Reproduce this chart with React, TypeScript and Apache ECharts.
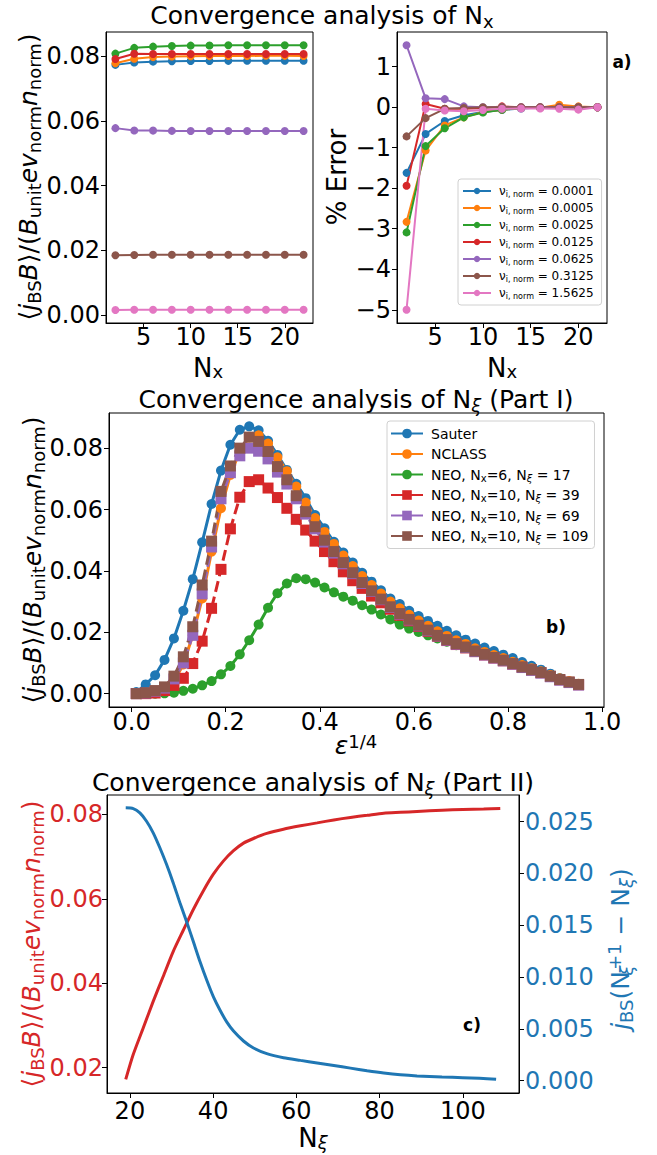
import React, { useEffect, useRef } from 'react';
import * as echarts from 'echarts';

const F = "'DejaVu Sans', sans-serif";
const COL = ['#1f77b4', '#ff7f0e', '#2ca02c', '#d62728', '#9467bd', '#8c564b', '#e377c2'];

// ---------- Panel a ----------
const nxValues = [2, 4, 6, 8, 10, 12, 14, 16, 18, 20, 22];
const nuLabels = ['0.0001', '0.0005', '0.0025', '0.0125', '0.0625', '0.3125', '1.5625'];

const jbsNu0001 = [0.07733, 0.07808, 0.07833, 0.07844, 0.07851, 0.07854, 0.07858, 0.07859, 0.0786, 0.0786, 0.0786];
const jbsNu0005 = [0.07783, 0.07924, 0.07974, 0.0799, 0.08, 0.08005, 0.08008, 0.08009, 0.08015, 0.08012, 0.0801];
const jbsNu0025 = [0.08082, 0.0826, 0.08297, 0.08319, 0.08329, 0.08335, 0.08338, 0.08339, 0.0834, 0.0834, 0.0834];
const jbsNu0125 = [0.07913, 0.08076, 0.08067, 0.08067, 0.08068, 0.08072, 0.0807, 0.0807, 0.0807, 0.0807, 0.0807];
const jbsNu0625 = [0.05777, 0.05703, 0.05701, 0.05691, 0.0569, 0.0569, 0.0569, 0.0569, 0.0569, 0.0569, 0.0569];
const jbsNu3125 = [0.01847, 0.01855, 0.01859, 0.0186, 0.0186, 0.0186, 0.0186, 0.0186, 0.0186, 0.0186, 0.0186];
const jbsNu15625 = [0.00152, 0.0016, 0.0016, 0.0016, 0.0016, 0.0016, 0.0016, 0.0016, 0.0016, 0.0016, 0.0016];

const errNu0001 = [-1.62, -0.66, -0.34, -0.2, -0.12, -0.07, -0.03, -0.01, 0, 0, 0];
const errNu0005 = [-2.83, -1.07, -0.45, -0.25, -0.12, -0.06, -0.02, -0.01, 0.06, 0.02, 0];
const errNu0025 = [-3.09, -0.96, -0.52, -0.25, -0.13, -0.06, -0.02, -0.01, 0, 0, 0];
const errNu0125 = [-1.94, 0.08, -0.04, -0.04, -0.02, 0.02, 0, 0, 0, 0, 0];
const errNu0625 = [1.53, 0.22, 0.2, 0.02, 0, 0, 0, 0, 0, 0, 0];
const errNu3125 = [-0.72, -0.27, -0.04, -0.02, 0, 0, 0, 0, 0, 0, 0];
const errNu15625 = [-5.0, -0.04, -0.08, -0.1, -0.07, -0.04, -0.03, -0.03, -0.04, -0.06, 0];

const jbsA = [jbsNu0001, jbsNu0005, jbsNu0025, jbsNu0125, jbsNu0625, jbsNu3125, jbsNu15625];
const errA = [errNu0001, errNu0005, errNu0025, errNu0125, errNu0625, errNu3125, errNu15625];

// ---------- Panel b ----------
const epsQuarter = [0.01, 0.03, 0.05, 0.07, 0.09, 0.11, 0.13, 0.15, 0.17, 0.19, 0.21, 0.23, 0.25, 0.27, 0.29, 0.31,
  0.33, 0.35, 0.37, 0.39, 0.41, 0.43, 0.45, 0.47, 0.49, 0.51, 0.53, 0.55, 0.57, 0.59, 0.61, 0.63, 0.65, 0.67, 0.69,
  0.71, 0.73, 0.75, 0.77, 0.79, 0.81, 0.83, 0.85, 0.87, 0.89, 0.91, 0.93, 0.95];
const sauter = [0.0005, 0.003, 0.006, 0.011, 0.018, 0.027, 0.0373, 0.0493, 0.0618, 0.0727, 0.0811, 0.086, 0.0871, 0.0858,
  0.0824, 0.0778, 0.0729, 0.0684, 0.0637, 0.0582, 0.0539, 0.0495, 0.046, 0.0427, 0.0394, 0.0365, 0.0337, 0.031, 0.0292,
  0.027, 0.0253, 0.0237, 0.0221, 0.0205, 0.019, 0.0176, 0.0163, 0.015, 0.0139, 0.0127, 0.0116, 0.0103, 0.0091, 0.0078,
  0.0065, 0.0051, 0.0038, 0.003];
const nclass = [0.0, 0.0002, 0.0006, 0.0015, 0.004, 0.0095, 0.019, 0.031, 0.0463, 0.0604, 0.0713, 0.079, 0.0835, 0.0842,
  0.0815, 0.077, 0.0725, 0.0675, 0.0623, 0.0572, 0.0527, 0.0488, 0.045, 0.0416, 0.0383, 0.0354, 0.0326, 0.03, 0.0278,
  0.0257, 0.0238, 0.0221, 0.0203, 0.0188, 0.0174, 0.0162, 0.0148, 0.0136, 0.0126, 0.0116, 0.0104, 0.0093, 0.0083,
  0.0073, 0.0061, 0.005, 0.0041, 0.0032];
const neoNx6Nxi17 = [0.0, 0.0, 0.0, 0.0001, 0.0003, 0.0009, 0.0016, 0.0027, 0.0041, 0.0063, 0.009, 0.0128, 0.0174, 0.0225,
  0.028, 0.0327, 0.0359, 0.0376, 0.0373, 0.0362, 0.0346, 0.033, 0.0316, 0.0303, 0.0288, 0.0274, 0.0258, 0.0242, 0.0225,
  0.0212, 0.0201, 0.019, 0.018, 0.0169, 0.0158, 0.0149, 0.0139, 0.0128, 0.0118, 0.0108, 0.0097, 0.0087, 0.0077, 0.0068,
  0.0056, 0.0045, 0.0037, 0.0029];
const neoNx10Nxi39 = [0.0, 0.0, 0.0002, 0.001, 0.0027, 0.005, 0.0098, 0.0171, 0.0278, 0.0405, 0.0537, 0.064, 0.0691, 0.0697,
  0.067, 0.0639, 0.0604, 0.0568, 0.0533, 0.0497, 0.0463, 0.043, 0.0397, 0.0368, 0.0343, 0.0318, 0.0296, 0.0275, 0.0255,
  0.0237, 0.0219, 0.0203, 0.0187, 0.0173, 0.016, 0.0149, 0.0137, 0.0126, 0.0116, 0.0107, 0.0096, 0.0086, 0.0077, 0.0068,
  0.0056, 0.0045, 0.0037, 0.0029];
const neoNx10Nxi69 = [0.0, 0.0002, 0.0008, 0.0018, 0.0048, 0.01, 0.019, 0.0325, 0.0478, 0.0635, 0.072, 0.0775, 0.08, 0.079,
  0.0765, 0.0722, 0.0683, 0.0635, 0.0585, 0.0537, 0.0494, 0.0458, 0.0423, 0.0391, 0.0359, 0.0333, 0.0306, 0.0281, 0.0259,
  0.024, 0.0221, 0.0205, 0.0188, 0.0174, 0.0161, 0.015, 0.0137, 0.0126, 0.0116, 0.0107, 0.0096, 0.0085, 0.0076, 0.0067,
  0.0055, 0.0044, 0.0036, 0.0028];
const neoNx10Nxi109 = [0.0, 0.0003, 0.001, 0.0022, 0.0057, 0.012, 0.0218, 0.0354, 0.0497, 0.0659, 0.0742, 0.08, 0.0836,
  0.0822, 0.0789, 0.074, 0.0697, 0.0645, 0.0593, 0.0544, 0.05, 0.0463, 0.0427, 0.0394, 0.0362, 0.0335, 0.0308, 0.0283,
  0.0261, 0.0242, 0.0223, 0.0207, 0.019, 0.0176, 0.0163, 0.0152, 0.0139, 0.0128, 0.0118, 0.0109, 0.0098, 0.0087, 0.0078,
  0.0069, 0.0057, 0.0046, 0.0038, 0.003];

// ---------- Panel c ----------
const nXiRed = [19, 20.8, 23.2, 25.6, 28, 30.4, 32.8, 35.3, 37.7, 40.1, 42.5, 44.9, 47.3, 49.7, 52.9, 56.9, 61, 65, 69,
  73, 77, 81, 85, 89, 95, 100, 105, 109];
const jbsRed = [0.0172, 0.0231, 0.0294, 0.0357, 0.0416, 0.0475, 0.0525, 0.0576, 0.062, 0.0659, 0.069, 0.0714, 0.0732,
  0.0743, 0.0755, 0.0765, 0.0773, 0.078, 0.0787, 0.0793, 0.0798, 0.0803, 0.0805, 0.0807, 0.081, 0.0812, 0.0813, 0.0814];
const nXiBlue = [19, 20.8, 22.4, 24, 25.6, 27.2, 28.8, 30.4, 32, 33.7, 35.3, 36.9, 38.5, 40.1, 41.7, 43.3, 44.9, 47.3,
  49.7, 52.9, 56.9, 61, 65, 69, 73, 77, 81, 85, 89, 95, 100, 104, 108];
const diffBlue = [0.02632, 0.02625, 0.02583, 0.02503, 0.02391, 0.02247, 0.02087, 0.0191, 0.01718, 0.01526, 0.01334,
  0.01141, 0.00965, 0.00805, 0.00676, 0.00564, 0.00478, 0.00382, 0.00314, 0.0026, 0.00221, 0.00195, 0.0017, 0.00145,
  0.0012, 0.00095, 0.00073, 0.00056, 0.00045, 0.00035, 0.00028, 0.00022, 0.00012];

function rich(fs: number, color: string, lhScale = 1.2) {
  const sub = Math.round(fs * 0.7);
  const lh = Math.round(fs * lhScale);
  const slh = Math.round(sub * 0.9);
  const base = { fontFamily: F, color, fill: color };
  return {
    t: { ...base, fontSize: fs, lineHeight: lh, verticalAlign: 'middle' },
    i: { ...base, fontSize: fs, lineHeight: lh, verticalAlign: 'middle', fontStyle: 'italic' },
    s: { ...base, fontSize: sub, lineHeight: slh, verticalAlign: 'bottom' },
    si: { ...base, fontSize: sub, lineHeight: slh, verticalAlign: 'bottom', fontStyle: 'italic' },
    sw: { ...base, fontSize: sub, lineHeight: 10, verticalAlign: 'bottom', fontStyle: 'italic', width: 1, align: 'left' },
    p: { ...base, fontSize: sub, lineHeight: slh, verticalAlign: 'top' },
    pp: { ...base, fontSize: sub, lineHeight: 8, verticalAlign: 'top' },
    n: { ...base, fontSize: fs, lineHeight: lh, verticalAlign: 'middle', padding: [0, 0, 0, 3] },
  };
}

function gText(text: string, x: number, y: number, fs: number, color = '#000', rotation = 0, lhScale = 1.2) {
  return {
    type: 'text', x, y, rotation, silent: true,
    style: {
      text, rich: rich(fs, color, lhScale), fill: color, fontSize: fs, fontFamily: F,
      align: 'center', verticalAlign: 'middle', textAlign: 'center', textVerticalAlign: 'middle',
    },
  };
}

function boldLabel(text: string, x: number, y: number) {
  return {
    type: 'text', x, y, silent: true,
    style: {
      text, fontSize: 17, fontWeight: 'bold', fontFamily: F, fill: '#000',
      align: 'center', verticalAlign: 'middle', textAlign: 'center', textVerticalAlign: 'middle',
    },
  };
}

const minusFmt = (v: number, d: number) => (v < 0 ? '\u2212' : '') + Math.abs(v).toFixed(d);

function vAxis(gridIndex: number, min: number, max: number, ticks: number[], digits: number, margin: number, extra: any = {}) {
  const color = extra.color || '#000';
  return {
    type: 'value', gridIndex, min, max, position: extra.position,
    axisLine: { show: true, onZero: false, lineStyle: { color: '#000', width: 1 } },
    axisTick: { show: true, length: 5, inside: false, customValues: ticks, lineStyle: { color: '#000', width: 1 } },
    axisLabel: {
      customValues: ticks, formatter: (v: number) => minusFmt(v, digits), fontSize: 24, fontFamily: F, color, margin,
      lineHeight: extra.lineHeight,
    },
    splitLine: { show: false },
  };
}

function buildOption() {
  const grids = [
    { left: 106, top: 32, width: 207, height: 291 },
    { left: 397, top: 32, width: 210, height: 291 },
    { left: 109, top: 413, width: 495, height: 294 },
    { left: 107, top: 795, width: 412, height: 298 },
  ].map((g) => ({ ...g, show: true, borderColor: '#000', borderWidth: 1, backgroundColor: 'transparent', containLabel: false, outerBoundsMode: 'none' }));

  const xAxis = [
    vAxis(0, 1, 23, [5, 10, 15, 20], 0, 4, { lineHeight: 20 }),
    vAxis(1, 1, 23, [5, 10, 15, 20], 0, 4, { lineHeight: 20 }),
    vAxis(2, -0.048, 1.004, [0, 0.2, 0.4, 0.6, 0.8, 1.0], 1, 3, { lineHeight: 24 }),
    vAxis(3, 14.5, 113.5, [20, 40, 60, 80, 100], 0, 6, { lineHeight: 24 }),
  ];
  const yAxis = [
    vAxis(0, -0.0025, 0.0875, [0, 0.02, 0.04, 0.06, 0.08], 2, 6),
    vAxis(1, -5.3265, 1.8565, [-5, -4, -3, -2, -1, 0, 1], 0, 6),
    vAxis(2, -0.004355, 0.091455, [0, 0.02, 0.04, 0.06, 0.08], 2, 6),
    vAxis(3, 0.01399, 0.08461, [0.02, 0.04, 0.06, 0.08], 2, 4, { color: COL[3], position: 'left' }),
    vAxis(3, -0.0012, 0.02756, [0, 0.005, 0.01, 0.015, 0.02, 0.025], 3, 6, { color: COL[0], position: 'right' }),
  ];

  const series: any[] = [];
  jbsA.forEach((arr, k) => {
    series.push({
      type: 'line', name: nuLabels[k], xAxisIndex: 0, yAxisIndex: 0,
      data: nxValues.map((x, i) => [x, arr[i]]),
      symbol: 'circle', symbolSize: 8, lineStyle: { color: COL[k], width: 2 }, itemStyle: { color: COL[k], borderWidth: 0 },
    });
  });
  errA.forEach((arr, k) => {
    series.push({
      type: 'line', name: nuLabels[k], xAxisIndex: 1, yAxisIndex: 1,
      data: nxValues.map((x, i) => [x, arr[i]]),
      symbol: 'circle', symbolSize: 8, lineStyle: { color: COL[k], width: 2 }, itemStyle: { color: COL[k], borderWidth: 0 },
    });
  });
  const bSeries = [
    { name: 'Sauter', d: sauter, c: COL[0], sym: 'circle', dash: false },
    { name: 'NCLASS', d: nclass, c: COL[1], sym: 'circle', dash: false },
    { name: 'NEO17', d: neoNx6Nxi17, c: COL[2], sym: 'circle', dash: false },
    { name: 'NEO39', d: neoNx10Nxi39, c: COL[3], sym: 'rect', dash: true },
    { name: 'NEO69', d: neoNx10Nxi69, c: COL[4], sym: 'rect', dash: true },
    { name: 'NEO109', d: neoNx10Nxi109, c: COL[5], sym: 'rect', dash: true },
  ];
  bSeries.forEach((s) => {
    series.push({
      type: 'line', name: s.name, xAxisIndex: 2, yAxisIndex: 2,
      data: epsQuarter.map((x, i) => [x, s.d[i]]),
      symbol: s.sym, symbolSize: s.sym === 'rect' ? 11 : 10,
      lineStyle: { color: s.c, width: 3, type: s.dash ? [11, 5] : 'solid' },
      itemStyle: { color: s.c, borderWidth: 0 },
    });
  });
  series.push({
    type: 'line', name: 'cRed', xAxisIndex: 3, yAxisIndex: 3, smooth: 0.25, showSymbol: false,
    data: nXiRed.map((x, i) => [x, jbsRed[i]]), lineStyle: { color: COL[3], width: 3 }, itemStyle: { color: COL[3] },
  });
  series.push({
    type: 'line', name: 'cBlue', xAxisIndex: 3, yAxisIndex: 4, smooth: 0.25, showSymbol: false,
    data: nXiBlue.map((x, i) => [x, diffBlue[i]]), lineStyle: { color: COL[0], width: 3 }, itemStyle: { color: COL[0] },
  });

  const legA = rich(12, '#000');
  const legB = rich(14, '#000');
  const bLegendText: Record<string, string> = {
    Sauter: '{n|Sauter}',
    NCLASS: '{n|NCLASS}',
    NEO17: '{n|NEO, N}{s|x}{t|=6, N}{si|ξ}{t| = 17}',
    NEO39: '{n|NEO, N}{s|x}{t|=10, N}{si|ξ}{t| = 39}',
    NEO69: '{n|NEO, N}{s|x}{t|=10, N}{si|ξ}{t| = 69}',
    NEO109: '{n|NEO, N}{s|x}{t|=10, N}{si|ξ}{t| = 109}',
  };

  const legendCommon = {
    orient: 'vertical', backgroundColor: 'rgba(255,255,255,0.8)', borderColor: '#d0d0d0', borderWidth: 1, borderRadius: 3,
    selectedMode: false, lineStyle: { type: 'solid' },
  };

  const jLabel = '{t|\u27E8}{i|j}{s|BS}{i|B}{t|\u27E9/(}{i|B}{s|unit}{i|ev}{s|norm}{i|n}{s|norm}{t|)}';

  const graphic = [
    gText('{t|Convergence analysis of N}{s|x}', 322, 15, 25),
    gText('{t|Convergence analysis of N}{si|ξ}{t| (Part I)}', 356, 399, 25),
    gText('{t|Convergence analysis of N}{si|ξ}{t| (Part II)}', 313, 782, 25),
    gText(jLabel, 28, 177, 25, '#000', Math.PI / 2),
    gText('{t|N}{s|x}', 208, 368, 26, '#000', 0, 0.92),
    gText('{t|% Error}', 337, 177, 26, '#000', Math.PI / 2),
    gText('{t|N}{s|x}', 502, 368, 26, '#000', 0, 0.92),
    gText(jLabel, 32, 560, 25, '#000', Math.PI / 2),
    gText('{i|ε}{p|1/4}', 356, 745, 25, '#000', 0, 1.0),
    gText(jLabel, 31, 944, 25, COL[3], Math.PI / 2),
    gText('{i|j}{s|BS}{t|(N}{sw|ξ}{pp|+1}{t| \u2212 N}{si|ξ}{t|)}', 620, 949, 25, COL[0], Math.PI / 2),
    gText('{t|N}{si|ξ}', 313, 1138, 26, '#000', 0, 1.0),
    boldLabel('a)', 622, 62),
    boldLabel('b)', 556, 627),
    boldLabel('c)', 472, 1025),
  ];

  return {
    animation: false,
    backgroundColor: '#fff',
    grid: grids,
    xAxis,
    yAxis,
    series,
    legend: [
      {
        ...legendCommon,
        data: nuLabels, left: 458, top: 179, itemWidth: 28, itemHeight: 8, itemGap: 3, padding: [5, 8, 5, 4],
        formatter: (name: string) => `{n|ν}{s|i, norm}{t| = ${name}}`,
        textStyle: { fontSize: 12, fontFamily: F, color: '#000', lineHeight: 16, rich: legA },
      },
      {
        ...legendCommon,
        data: bSeries.map((s) => s.name), left: 387, top: 421, itemWidth: 32, itemHeight: 12, itemGap: 3.5, padding: [4, 6, 4, 3],
        formatter: (name: string) => bLegendText[name],
        textStyle: { fontSize: 14, fontFamily: F, color: '#000', lineHeight: 19, rich: legB },
      },
    ],
    graphic,
  };
}

export default function App() {
  const ref = useRef<HTMLDivElement>(null);
  useEffect(() => {
    const chart = echarts.init(ref.current!, null, { renderer: 'svg' });
    chart.setOption(buildOption() as any);
    return () => chart.dispose();
  }, []);
  return (
    <div
      ref={ref}
      style={{ position: 'absolute', left: 0, top: 0, width: 657, height: 1155, background: '#fff' }}
    />
  );
}
